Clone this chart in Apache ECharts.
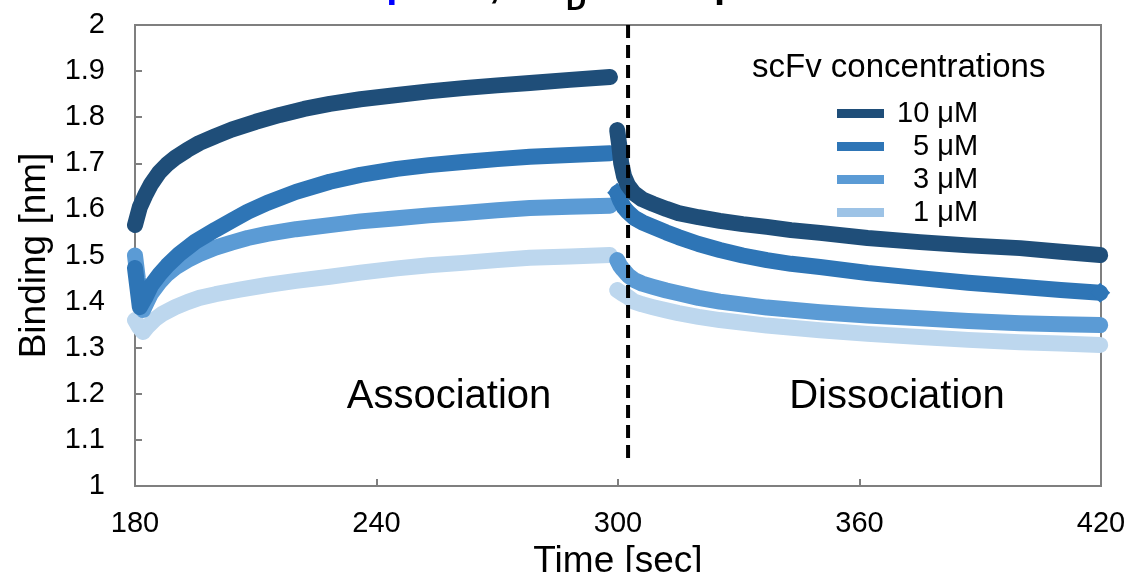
<!DOCTYPE html>
<html><head><meta charset="utf-8">
<script src="https://cdn.jsdelivr.net/npm/echarts@6/dist/echarts.min.js"></script>
<style>html,body{margin:0;padding:0;background:#fff}#c{width:1128px;height:572px}</style>
</head><body><div id="c"></div>
<script>
// ---- data (time [sec], binding [nm]) ----
const assoc10 = [[180,1.566],[181.2,1.605],[182.5,1.63],[184,1.655],[186,1.68],[188,1.698],[190,1.712],[193,1.729],[196,1.744],[200,1.759],[204,1.773],[210,1.790],[216,1.805],[222,1.818],[228.4,1.829],[236,1.839],[245.1,1.848],[253,1.856],[261.5,1.863],[270,1.869],[278.1,1.874],[288,1.881],[298,1.887]];
const dissoc10 = [[299.8,1.772],[300.3,1.74],[300.8,1.70],[301.5,1.672],[302.5,1.652],[304,1.635],[306,1.622],[308.7,1.612],[312,1.601],[315,1.592],[320,1.583],[325.3,1.575],[331,1.568],[337,1.562],[343,1.555],[350.2,1.549],[362,1.538],[375,1.529],[387,1.522],[399.9,1.516],[410,1.508],[419.8,1.501]];
const assoc5 = [[180,1.473],[181.2,1.388],[182.5,1.408],[184,1.435],[186,1.458],[188,1.478],[191,1.503],[195,1.53],[200,1.556],[204.3,1.577],[208,1.595],[212.8,1.614],[220,1.638],[228.4,1.66],[236,1.675],[245.1,1.688],[253,1.696],[261.5,1.703],[270,1.709],[278.1,1.714],[288,1.718],[298,1.722]];
const dissoc5 = [[299.8,1.636],[300.5,1.62],[301.5,1.604],[302.5,1.594],[304,1.582],[306,1.572],[308.7,1.562],[312,1.55],[315,1.54],[320,1.525],[325.3,1.512],[331,1.50],[337,1.49],[343,1.482],[350.2,1.475],[362,1.462],[375,1.451],[387,1.441],[399.9,1.432],[410,1.425],[419.8,1.419]];
const assoc3 = [[180,1.50],[180.7,1.45],[182,1.382],[183,1.40],[184,1.418],[186,1.441],[188,1.46],[190,1.474],[193,1.49],[196,1.503],[200,1.517],[204,1.528],[208,1.538],[212.8,1.547],[220,1.557],[228.4,1.566],[236,1.574],[245.1,1.581],[253,1.587],[261.5,1.592],[270,1.598],[278.1,1.603],[288,1.606],[298,1.608]];
const dissoc3 = [[299.8,1.490],[300.5,1.478],[301.2,1.47],[302.5,1.457],[304,1.447],[306,1.439],[308.7,1.432],[312,1.424],[315,1.418],[320,1.408],[325.3,1.40],[337,1.387],[350.2,1.377],[362,1.37],[375,1.364],[387,1.358],[399.9,1.353],[410,1.351],[419.8,1.349]];
const assoc1 = [[180,1.36],[181,1.345],[182,1.334],[183,1.345],[185,1.362],[186.9,1.374],[190,1.388],[193,1.399],[196,1.408],[200,1.416],[206,1.426],[212.8,1.436],[220,1.445],[228.4,1.454],[236,1.463],[245.1,1.472],[253,1.479],[261.5,1.484],[270,1.49],[278.1,1.495],[288,1.498],[298,1.501]];
const dissoc1 = [[299.8,1.425],[301,1.418],[302.5,1.41],[304,1.40],[306,1.394],[308.7,1.388],[312,1.381],[315,1.375],[320,1.367],[325.3,1.36],[337,1.348],[350.2,1.338],[362,1.33],[375,1.323],[387,1.317],[399.9,1.312],[410,1.309],[419.8,1.306]];
const seriesNames = ['10 μM','5 μM','3 μM','1 μM'];
const dividerLine = [[302.5,2],[302.5,1.06]];
const xRange = [180,420,60];
const yRange = [1,2,0.1];

const FONT = '"Liberation Sans", Arial, sans-serif';
const colors = ['#1F4E79','#2E75B6','#5B9BD5','#BDD7EE'];
const legendColors = ['#1F4E79','#2E75B6','#5B9BD5','#9DC3E6'];

function lineSeries(name, color, pts, z, diamondEnds){
  return {
    type:'line', name:name, color:color, z:z,
    smooth:false,
    symbol:'none', showSymbol: !!diamondEnds, silent:true,
    lineStyle:{width:16, color:color, cap:'round', join:'round'},
    data: pts.map((p,i)=> (diamondEnds && (i===0 || i===pts.length-1))
      ? {value:p, symbol:'diamond', symbolSize:20, itemStyle:{color:color}}
      : {value:p}),
    animation:false
  };
}

const series = [
  lineSeries(seriesNames[3], colors[3], assoc1, 2),
  lineSeries(seriesNames[3], colors[3], dissoc1, 2),
  lineSeries(seriesNames[2], colors[2], assoc3, 3),
  lineSeries(seriesNames[2], colors[2], dissoc3, 3),
  lineSeries(seriesNames[1], colors[1], assoc5, 4),
  lineSeries(seriesNames[1], colors[1], dissoc5, 4, true),
  lineSeries(seriesNames[0], colors[0], assoc10, 5),
  lineSeries(seriesNames[0], colors[0], dissoc10, 5),
  {type:'line', name:'divider', data:dividerLine, symbol:'none', z:10, silent:true,
   lineStyle:{color:'#000', width:4, type:[13,7]}, animation:false}
];

const chart = echarts.init(document.getElementById('c'), null, {renderer:'canvas'});
chart.setOption({
  backgroundColor:'#fff',
  animation:false,
  grid:{left:135, right:27, top:25, bottom:86, outerBoundsMode:'none', containLabel:false,
    show:true, borderColor:'#7f7f7f', borderWidth:2, backgroundColor:'transparent'},
  xAxis:{type:'value', min:xRange[0], max:xRange[1], interval:xRange[2],
    name:'Time [sec]', nameLocation:'middle', nameGap:53,
    nameTextStyle:{fontFamily:FONT, fontSize:37, color:'#000'},
    axisLine:{show:true, lineStyle:{color:'#7f7f7f', width:2}},
    axisTick:{show:true, inside:true, length:7, lineStyle:{color:'#7f7f7f', width:2}},
    axisLabel:{fontFamily:FONT, fontSize:29, color:'#000', margin:23},
    splitLine:{show:false}},
  yAxis:{type:'value', min:yRange[0], max:yRange[1], interval:yRange[2],
    name:'Binding [nm]', nameLocation:'middle', nameGap:80, nameRotate:90,
    nameTextStyle:{fontFamily:FONT, fontSize:37, color:'#000'},
    axisLine:{show:true, lineStyle:{color:'#7f7f7f', width:2}},
    axisTick:{show:true, inside:true, length:7, lineStyle:{color:'#7f7f7f', width:2}},
    axisLabel:{fontFamily:FONT, fontSize:29, color:'#000', margin:30, formatter:v=>String(+v.toFixed(1))},
    splitLine:{show:false}},
  legend:{orient:'vertical', left:832, top:94, itemWidth:47, itemHeight:9, itemGap:4, icon:'rect',
    selectedMode:false,
    data: seriesNames.map((n,i)=>({name:n, itemStyle:{color:legendColors[i]}})),
    formatter: n => n.length < 5 ? '  ' + n : n,
    textStyle:{fontFamily:FONT, fontSize:29, lineHeight:29, color:'#000', padding:[0,0,0,8]}},
  graphic:[
    {type:'text', x:752, y:68, silent:true, style:{text:'scFv concentrations', fontFamily:FONT, fontSize:33, fill:'#000', align:'left', verticalAlign:'middle'}},
    {type:'text', x:449, y:397, silent:true, style:{text:'Association', fontFamily:FONT, fontSize:40, fill:'#000', align:'center', verticalAlign:'middle'}},
    {type:'text', x:897, y:397, silent:true, style:{text:'Dissociation', fontFamily:FONT, fontSize:40, fill:'#000', align:'center', verticalAlign:'middle'}},
    {type:'text', x:335, y:-14, silent:true, style:{text:'Capo-T1', fontFamily:FONT, fontWeight:'bold', fontSize:40, fill:'#0000FF', align:'left', verticalAlign:'middle'}},
    {type:'text', x:489, y:-14, silent:true, style:{text:',', fontFamily:FONT, fontWeight:'bold', fontSize:40, fill:'#000', align:'left', verticalAlign:'middle'}},
    {type:'text', x:536, y:-14, silent:true, style:{text:'K', fontFamily:FONT, fontWeight:'bold', fontSize:40, fill:'#000', align:'left', verticalAlign:'middle'}},
    {type:'text', x:566, y:2, silent:true, style:{text:'D', fontFamily:FONT, fontWeight:'bold', fontSize:28, fill:'#000', align:'left', verticalAlign:'middle'}},
    {type:'text', x:600, y:-14, silent:true, style:{text:'= 2.1', fontFamily:FONT, fontWeight:'bold', fontSize:40, fill:'#000', align:'left', verticalAlign:'middle'}},
    {type:'text', x:714, y:-14, silent:true, style:{text:'μM', fontFamily:FONT, fontWeight:'bold', fontSize:40, fill:'#000', align:'left', verticalAlign:'middle'}}
  ],
  series: series
});
</script></body></html>
